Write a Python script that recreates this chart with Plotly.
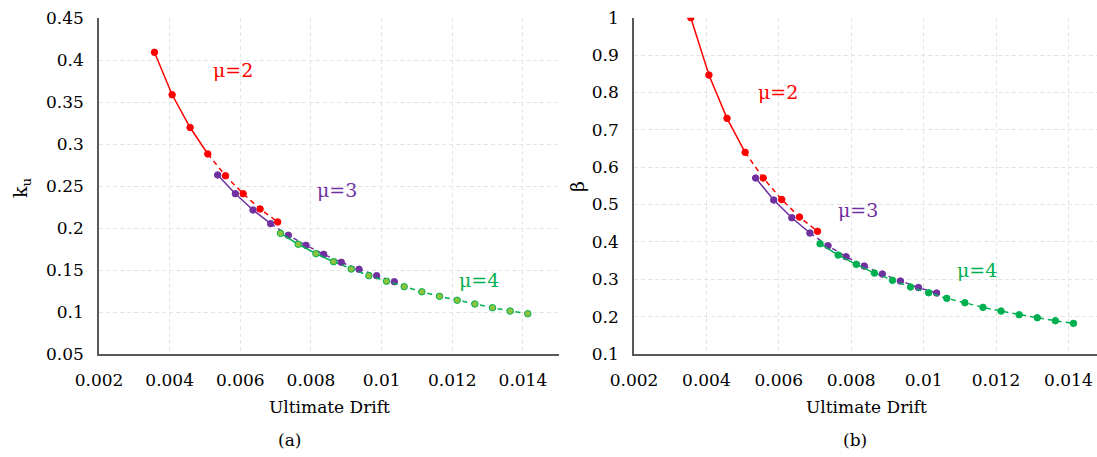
import plotly.graph_objects as go

# ---------------- data ----------------
# Panel (a): k_u vs ultimate drift
a_mu2_x = [0.00357, 0.00407, 0.00458, 0.00508, 0.00558, 0.00608, 0.00656, 0.00706]
a_mu2_y = [0.4095, 0.359, 0.320, 0.2885, 0.2626, 0.2412, 0.223, 0.2075]
a_mu3_x = [0.00536, 0.00586, 0.00636, 0.00686, 0.00736, 0.00786, 0.00836, 0.00886, 0.00936, 0.00986, 0.01036]
a_mu3_y = [0.2635, 0.2412, 0.2218, 0.2055, 0.1917, 0.1798, 0.1690, 0.1595, 0.1512, 0.1436, 0.1364]
a_mu4_x = [0.00714, 0.00764, 0.00814, 0.00864, 0.00914, 0.00964, 0.01014, 0.01064,
           0.01114, 0.01164, 0.01214, 0.01264, 0.01314, 0.01364, 0.01414]
a_mu4_y = [0.194, 0.181, 0.1698, 0.1602, 0.1515, 0.1436, 0.137, 0.1305,
           0.1244, 0.119, 0.1143, 0.1099, 0.1055, 0.1015, 0.0983]

# Panel (b): beta vs ultimate drift
b_mu2_x = [0.00357, 0.00407, 0.00457, 0.00507, 0.00557, 0.00608, 0.00657, 0.00707]
b_mu2_y = [1.0, 0.8466, 0.7307, 0.6397, 0.5709, 0.5134, 0.4665, 0.4283]
b_mu3_x = [0.00536, 0.00586, 0.00636, 0.00686, 0.00736, 0.00786, 0.00836, 0.00886, 0.00936, 0.00986, 0.01036]
b_mu3_y = [0.5709, 0.512, 0.4647, 0.4237, 0.3897, 0.3603, 0.3354, 0.314, 0.2952, 0.2778, 0.2631]
b_mu4_x = [0.00714, 0.00764, 0.00814, 0.00864, 0.00914, 0.00964, 0.01014, 0.01064,
           0.01114, 0.01164, 0.01214, 0.01264, 0.01314, 0.01364, 0.01414]
b_mu4_y = [0.3951, 0.3648, 0.34, 0.3166, 0.2971, 0.2792, 0.2639, 0.2489,
           0.2372, 0.2248, 0.2149, 0.205, 0.197, 0.189, 0.182]

series_labels = ["μ=2", "μ=3", "μ=4"]
x_tick_vals = [0.002, 0.004, 0.006, 0.008, 0.01, 0.012, 0.014]
x_tick_text = ["0.002", "0.004", "0.006", "0.008", "0.01", "0.012", "0.014"]
a_y_tick_vals = [0.05, 0.1, 0.15, 0.2, 0.25, 0.3, 0.35, 0.4, 0.45]
a_y_tick_text = ["0.05", "0.1", "0.15", "0.2", "0.25", "0.3", "0.35", "0.4", "0.45"]
b_y_tick_vals = [0.1, 0.2, 0.3, 0.4, 0.5, 0.6, 0.7, 0.8, 0.9, 1.0]
b_y_tick_text = ["0.1", "0.2", "0.3", "0.4", "0.5", "0.6", "0.7", "0.8", "0.9", "1"]

# ---------------- style ----------------
W, H = 1097, 457
FONT = "DejaVu Serif"
RED = "#FF0000"
PURPLE = "#7030A0"
GREEN = "#00B050"
GREEN_FILL_A = "#8CC43E"
DASH = "5px,4px"
N_SOLID = 4

fig = go.Figure()


def add_series(xs, ys, color, xa, ya, fill=None):
    fill = fill or color
    fig.add_trace(go.Scatter(x=xs[:N_SOLID], y=ys[:N_SOLID], mode="lines",
                             line=dict(color=color, width=1.5), xaxis=xa, yaxis=ya,
                             showlegend=False, hoverinfo="skip"))
    fig.add_trace(go.Scatter(x=xs[N_SOLID - 1:], y=ys[N_SOLID - 1:], mode="lines",
                             line=dict(color=color, width=1.5, dash=DASH), xaxis=xa, yaxis=ya,
                             showlegend=False, hoverinfo="skip"))
    fig.add_trace(go.Scatter(x=xs, y=ys, mode="markers",
                             marker=dict(color=fill, size=6.5, line=dict(color=color, width=1)),
                             xaxis=xa, yaxis=ya, showlegend=False))


add_series(a_mu2_x, a_mu2_y, RED, "x", "y")
add_series(a_mu3_x, a_mu3_y, PURPLE, "x", "y")
add_series(a_mu4_x, a_mu4_y, GREEN, "x", "y", fill=GREEN_FILL_A)
add_series(b_mu2_x, b_mu2_y, RED, "x2", "y2")
add_series(b_mu3_x, b_mu3_y, PURPLE, "x2", "y2")
add_series(b_mu4_x, b_mu4_y, GREEN, "x2", "y2")

axis_common = dict(showline=True, linecolor="#595959", linewidth=1.5, mirror=False,
                   showgrid=True, gridcolor="#E4E4E4", gridwidth=1, griddash="4px,3px",
                   zeroline=False, ticks="", tickfont=dict(family=FONT, size=17, color="#000"),
                   tickmode="array", ticklabelstandoff=10, automargin=False)


def px_x(p):
    return p / W


def px_y(p):
    return 1 - p / H


fig.update_layout(
    template="none",
    width=W, height=H, margin=dict(l=0, r=0, t=0, b=0, pad=0),
    paper_bgcolor="white", plot_bgcolor="white",
    font=dict(family=FONT, size=17, color="#000"),
    xaxis=dict(domain=[px_x(99), px_x(559)], range=[0.002, 0.015022], anchor="y",
               tickvals=x_tick_vals, ticktext=x_tick_text, **axis_common),
    yaxis=dict(domain=[px_y(354.3), px_y(18.3)], range=[0.05, 0.45], anchor="x",
               tickvals=a_y_tick_vals, ticktext=a_y_tick_text, **axis_common),
    xaxis2=dict(domain=[px_x(634), 1.0], range=[0.002, 0.01479], anchor="y2",
                tickvals=x_tick_vals, ticktext=x_tick_text, **axis_common),
    yaxis2=dict(domain=[px_y(354), px_y(17.7)], range=[0.1, 1.0], anchor="x2",
                tickvals=b_y_tick_vals, ticktext=b_y_tick_text, **axis_common),
)

ann = []
# series labels (data coords)
lab_font = 19
ann += [
    dict(x=0.005793, y=0.3885, xref="x", yref="y", text=series_labels[0], font=dict(color=RED, size=lab_font)),
    dict(x=0.008737, y=0.2456, xref="x", yref="y", text=series_labels[1], font=dict(color=PURPLE, size=lab_font)),
    dict(x=0.012749, y=0.139, xref="x", yref="y", text=series_labels[2], font=dict(color=GREEN, size=lab_font)),
    dict(x=0.005964, y=0.8025, xref="x2", yref="y2", text=series_labels[0], font=dict(color=RED, size=lab_font)),
    dict(x=0.008188, y=0.4853, xref="x2", yref="y2", text=series_labels[1], font=dict(color=PURPLE, size=lab_font)),
    dict(x=0.011475, y=0.3247, xref="x2", yref="y2", text=series_labels[2], font=dict(color=GREEN, size=lab_font)),
]
# axis titles and panel captions (paper coords)
ann += [
    dict(x=px_x(329), y=px_y(407), xref="paper", yref="paper", text="Ultimate Drift", font=dict(size=17)),
    dict(x=px_x(866), y=px_y(407), xref="paper", yref="paper", text="Ultimate Drift", font=dict(size=17)),
    dict(x=px_x(21), y=px_y(188), xref="paper", yref="paper", text="k<sub>u</sub>", textangle=-90, font=dict(size=19)),
    dict(x=px_x(577), y=px_y(187), xref="paper", yref="paper", text="β", textangle=-90, font=dict(size=19)),
    dict(x=px_x(289), y=px_y(440), xref="paper", yref="paper", text="(a)", font=dict(size=17)),
    dict(x=px_x(855), y=px_y(440), xref="paper", yref="paper", text="(b)", font=dict(size=17)),
]
for a in ann:
    a.update(showarrow=False, xanchor="center", yanchor="middle")
    a["font"] = dict(family=FONT, **a["font"])
fig.update_layout(annotations=ann)

fig.write_html("out.html")
